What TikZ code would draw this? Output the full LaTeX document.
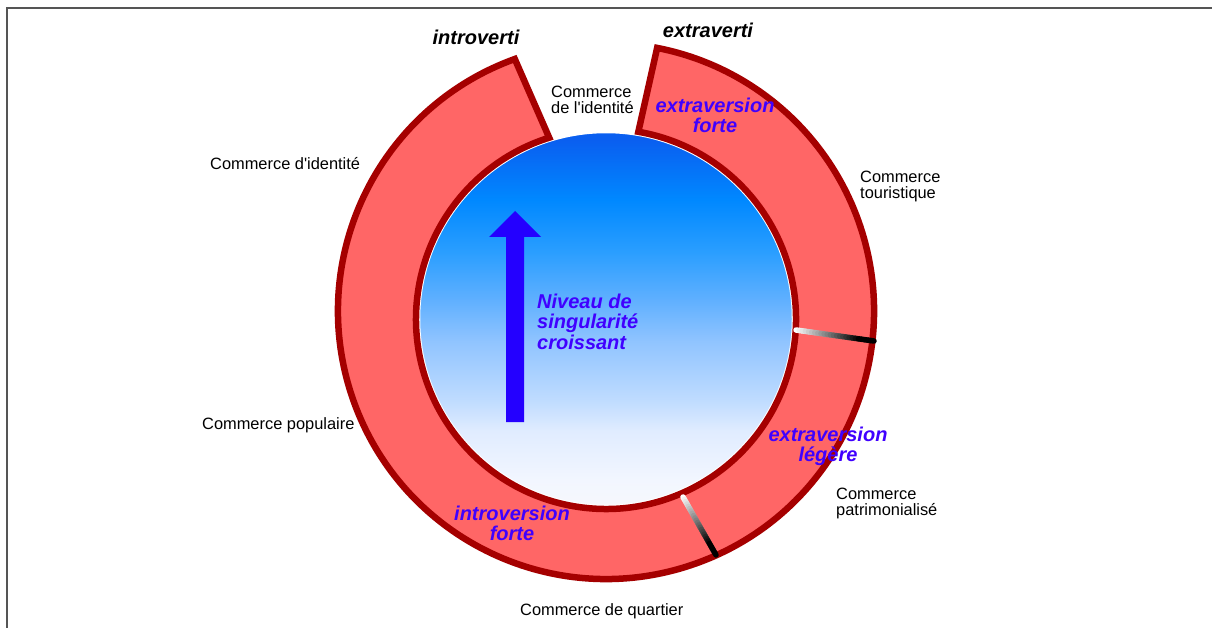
\documentclass[tikz,border=0pt]{standalone}
\usepackage{fontspec}
\setmainfont{Liberation Sans}
\usetikzlibrary{calc}
\definecolor{ringfill}{RGB}{255,102,102}
\definecolor{ringline}{RGB}{165,0,0}
\definecolor{arrowblue}{RGB}{36,0,255}
\definecolor{labelblue}{RGB}{64,0,255}
\definecolor{framegray}{RGB}{85,85,85}
\definecolor{skyA}{RGB}{246,248,252}
\definecolor{skyB}{RGB}{242,246,255}
\definecolor{skyC}{RGB}{224,236,255}
\definecolor{skyD}{RGB}{192,220,255}
\definecolor{skyE}{RGB}{144,196,255}
\definecolor{skyF}{RGB}{96,176,255}
\definecolor{skyG}{RGB}{42,158,255}
\definecolor{skyH}{RGB}{0,136,255}
\definecolor{skyI}{RGB}{10,95,240}
\pgfdeclareverticalshading{sky}{100bp}{color(0bp)=(skyA); color(25bp)=(skyA); color(28.5bp)=(skyB); color(35bp)=(skyC); color(39bp)=(skyD); color(47bp)=(skyE); color(52.5bp)=(skyF); color(59bp)=(skyG); color(66bp)=(skyH); color(74bp)=(skyI); color(75bp)=(skyI); color(100bp)=(skyI)}
\tikzset{
  blk/.style={font=\fontsize{16.4}{15.5}\selectfont, inner sep=0pt, text=black},
  bluelbl/.style={font=\fontsize{20}{20.5}\selectfont\bfseries\itshape, text=labelblue, inner sep=0pt, align=center},
  pole/.style={font=\fontsize{20}{20.5}\selectfont\bfseries\itshape, text=black, inner sep=0pt},
  ringstyle/.style={fill=ringfill, draw=ringline, line width=6.5pt, line join=miter},
  sepline/.style={line width=5.5pt, line cap=round},
  frame/.style={draw=framegray, line width=2pt},
}
\begin{document}
\begin{tikzpicture}[x=1pt,y=1pt]
\useasboundingbox (0,0) rectangle (1212,-628);
\fill[white] (0,0) rectangle (1212,-628);
% frame (top and left only)
\draw[frame] (7,-628) -- (7,-8) -- (1212,-8);
% centres
\coordinate (O1) at (606,-311);
\coordinate (O2) at (606,-319);
% blue disc
\shadedraw[shading=sky, draw=white, line width=1.5pt] (O2) circle[radius=186.5];
% ring
\draw[ringstyle] ($(O1)+(109.9:268)$) arc[start angle=109.9, end angle=439, radius=268]
  -- ($(O2)+(80.2:190)$) arc[start angle=440.2, end angle=107.4, radius=190] -- cycle;
% separators (white to black)
\coordinate (s1a) at (796,-330);
\coordinate (s1b) at (874,-341);
\coordinate (s2a) at (683,-497);
\coordinate (s2b) at (716,-555);
\foreach \i in {0,...,24}{
  \pgfmathtruncatemacro\c{max(0,100-5*\i)}
  \pgfmathsetmacro\ta{\i/25}
  \pgfmathsetmacro\tb{(\i+1)/25}
  \draw[sepline, color=white!\c!black] ($(s1a)!\ta!(s1b)$) -- ($(s1a)!\tb!(s1b)$);
  \draw[sepline, color=white!\c!black] ($(s2a)!\ta!(s2b)$) -- ($(s2a)!\tb!(s2b)$);
}
% arrow
\fill[arrowblue] (506,-422) -- (506,-237) -- (489,-237) -- (515,-211) -- (541,-237) -- (524,-237) -- (524,-422) -- cycle;
% blue labels
\node[bluelbl, anchor=north west, align=left] (niveau) at (537,-293.7) {Niveau de\\singularité\\croissant};
\node[bluelbl, anchor=north] (xforte) at (715,-97.7) {extraversion\\forte};
\node[bluelbl, anchor=north] (xlegere) at (828,-426.7) {extraversion\\légère};
\node[bluelbl, anchor=north] (iforte) at (512,-505.7) {introversion\\forte};
% poles
\node[pole, anchor=base] (introverti) at (476,-45) {introverti};
\node[pole, anchor=base] (extraverti) at (708,-38) {extraverti};
% commerce labels
\node[blk, anchor=north west, align=left] (cident) at (551,-86.3) {Commerce\\de l\textquotesingle identité};
\node[blk, anchor=base west] (cdid) at (210,-170) {Commerce d\textquotesingle identité};
\node[blk, anchor=north west, align=left] (ctour) at (860,-171.3) {Commerce\\touristique};
\node[blk, anchor=base west] (cpop) at (202,-429) {Commerce populaire};
\node[blk, anchor=north west, align=left] (cpat) at (836,-488.3) {Commerce\\patrimonialisé};
\node[blk, anchor=base west] (cquart) at (520,-615) {Commerce de quartier};
\end{tikzpicture}
\end{document}
